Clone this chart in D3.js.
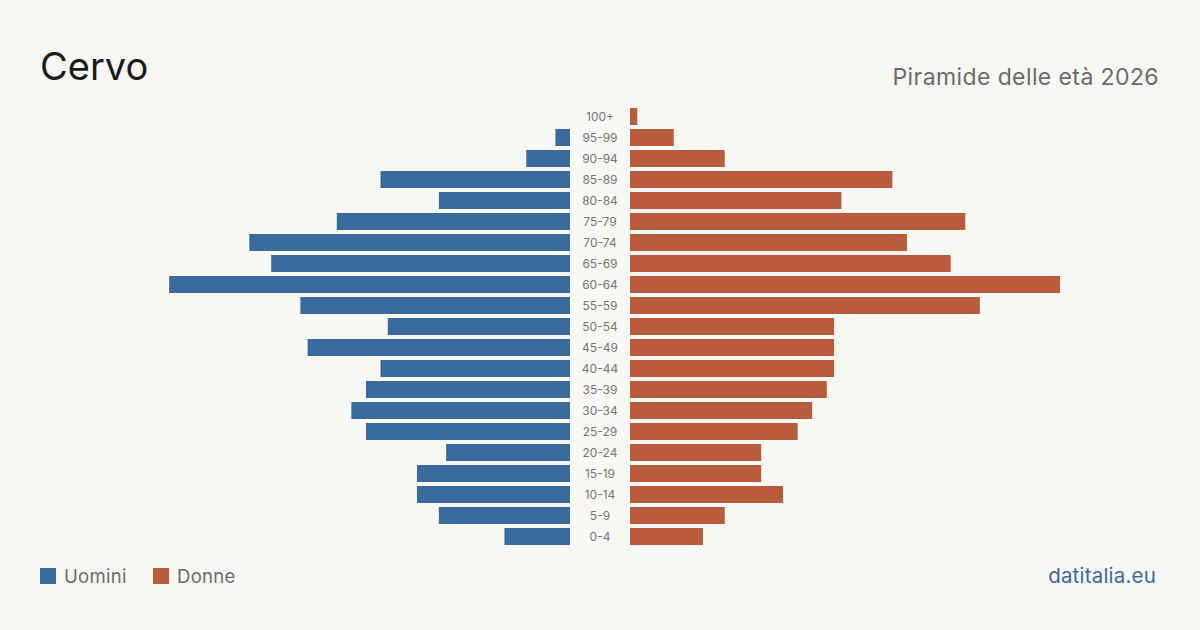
<!DOCTYPE html>
<html><head><meta charset="utf-8">
<script src="https://cdn.jsdelivr.net/npm/d3@7"></script>
<style>
html,body{margin:0;padding:0;background:#f9f8f4;}
svg{display:block;font-family:Inter,"Open Sans",sans-serif;}
</style></head>
<body>
<svg id="c" width="1200" height="630"></svg>
<script>
const ageGroups = ["100+","95-99","90-94","85-89","80-84","75-79","70-74","65-69","60-64","55-59","50-54","45-49","40-44","35-39","30-34","25-29","20-24","15-19","10-14","5-9","0-4"];
const men   = [0,2,6,26,18,32,44,41,55,37,25,36,26,28,30,28,17,21,21,18,9];
const women = [1,6,13,36,29,46,38,44,59,48,28,28,28,27,25,23,18,18,21,13,10];
const seriesNames = ["Uomini","Donne"];
const colors = ["#3b6b9c","#b95c3c"];
const title = "Cervo";
const subtitle = "Piramide delle età 2026";
const source = "datitalia.eu";

const svg = d3.select("#c");
const W = 1200, H = 630;
svg.append("rect").attr("width",W).attr("height",H).attr("fill","#f9f8f4");

const maxV = d3.max(men.concat(women));
const y = d3.scaleBand().domain(ageGroups).range([106,547]).paddingInner(0.19).paddingOuter(0.095);
const xL = d3.scaleLinear().domain([0,maxV]).range([570,140]);
const xR = d3.scaleLinear().domain([0,maxV]).range([630,1060]);

svg.append("g").selectAll("rect").data(ageGroups).join("rect")
  .attr("x",(d,i)=>xL(men[i])).attr("y",d=>y(d))
  .attr("width",(d,i)=>xL(0)-xL(men[i])).attr("height",y.bandwidth())
  .attr("fill",colors[0]);
svg.append("g").selectAll("rect").data(ageGroups).join("rect")
  .attr("x",xR(0)).attr("y",d=>y(d))
  .attr("width",(d,i)=>xR(women[i])-xR(0)).attr("height",y.bandwidth())
  .attr("fill",colors[1]);
svg.append("g").selectAll("text").data(ageGroups).join("text")
  .attr("x",600).attr("y",d=>y(d)+y.bandwidth()/2)
  .attr("dy","0.35em").attr("text-anchor","middle")
  .attr("font-size",12).attr("fill","#777").text(d=>d);

svg.append("text").attr("x",40).attr("y",80).attr("font-size",38).attr("fill","#1a1a1a").text(title);
svg.append("text").attr("x",1159).attr("y",85).attr("text-anchor","end").attr("font-size",23).attr("letter-spacing",0.4).attr("fill","#6b6b6b").text(subtitle);

const leg = svg.append("g");
const legX = [40,153];
seriesNames.forEach((n,i)=>{
  leg.append("rect").attr("x",legX[i]).attr("y",568).attr("width",16).attr("height",16).attr("fill",colors[i]);
  leg.append("text").attr("x",legX[i]+24).attr("y",583).attr("font-size",18.5).attr("letter-spacing",0.3).attr("fill","#6b6b6b").text(n);
});
svg.append("text").attr("x",1156).attr("y",583).attr("text-anchor","end").attr("font-size",20.5).attr("letter-spacing",0.2).attr("fill","#3b6b9c").text(source);
</script>
</body></html>
